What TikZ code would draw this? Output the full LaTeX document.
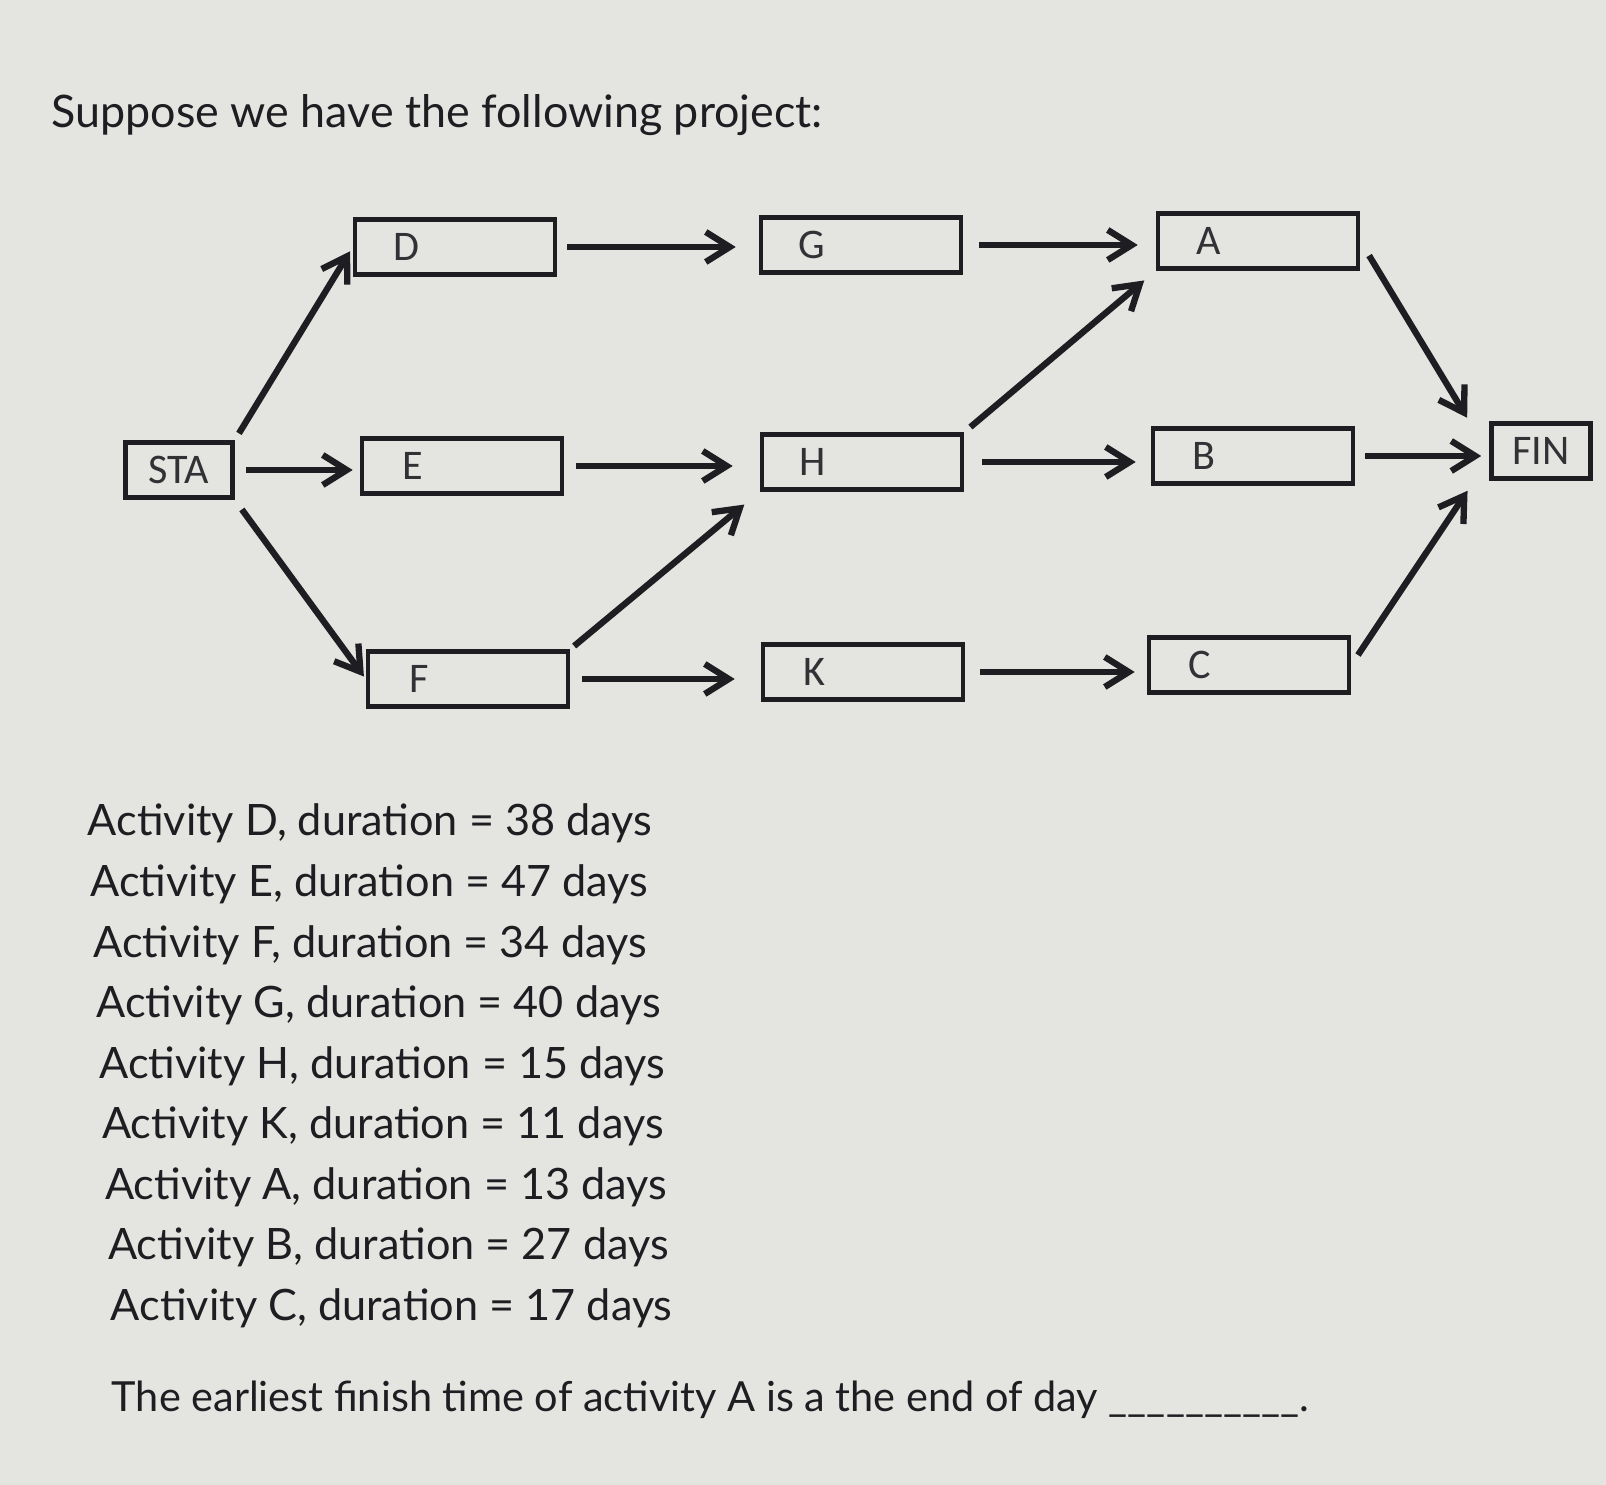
\documentclass[tikz,border=0pt]{standalone}
\usepackage{fontspec}
\setmainfont{Lato}
\newfontfamily\boxfont{Carlito}
\usepackage{tikz}
\usetikzlibrary{arrows.meta, positioning, calc}
\definecolor{paper}{RGB}{228,228,224}
\definecolor{ink}{RGB}{30,30,34}
\definecolor{tagink}{RGB}{50,50,54}
\newcommand{\boxtag}[1]{\makebox[0.8cm]{#1}}

\begin{document}
\begin{tikzpicture}[
    actbox/.style={draw=ink, line width=1.3pt, fill=paper, minimum width=2cm, minimum height=0.55cm,
                   text width=1.78cm, inner xsep=0.11cm, align=left, text=tagink, font=\boxfont\fontsize{12}{13}\selectfont},
    endbox/.style={draw=ink, line width=1.3pt, fill=paper, minimum height=0.55cm,
                   text=tagink, font=\boxfont\fontsize{12}{13}\selectfont},
    flow/.style={draw=ink, line width=1.8pt, -{Straight Barb[length=2.4mm, width=3mm, line width=1.8pt]}},
    txt/.style={anchor=base west, inner sep=0pt, text=ink, font=\fontsize{13.2}{16}\selectfont}
  ]
  \fill[paper] (0,0) rectangle (16.06,-14.85);
  \useasboundingbox (0,0) rectangle (16.06,-14.85);

  \node[txt, font=\fontsize{12.75}{16}\selectfont] (title) at (0.51,-1.28) {Suppose we have the following project:};

  % network
  \node[endbox, minimum width=1.07cm] (STA) at (1.79,-4.70) {STA};
  \node[actbox] (D) at (4.55,-2.47) {\boxtag{D}};
  \node[actbox] (E) at (4.62,-4.66) {\boxtag{E}};
  \node[actbox] (F) at (4.68,-6.79) {\boxtag{F}};
  \node[actbox] (G) at (8.61,-2.45) {\boxtag{G}};
  \node[actbox] (H) at (8.62,-4.62) {\boxtag{H}};
  \node[actbox] (K) at (8.63,-6.72) {\boxtag{K}};
  \node[actbox] (A) at (12.58,-2.41) {\boxtag{A}};
  \node[actbox] (B) at (12.53,-4.56) {\boxtag{B}};
  \node[actbox] (C) at (12.49,-6.65) {\boxtag{C}};
  \node[endbox, minimum width=0.99cm] (FIN) at (15.41,-4.51) {FIN};

  \draw[flow, shorten <=0.8mm, shorten >=0.5mm] (STA.north east) -- (D.west);
  \draw[flow, shorten <=1.1mm, shorten >=0.7mm] (STA.east) -- (STA.east -| E.west);
  \draw[flow, shorten <=1.2mm, shorten >=0.3mm] (STA.south east) -- (F.west);

  \draw[flow, shorten <=1mm, shorten >=2.3mm] (D.east) -- (D.east -| G.west);
  \draw[flow, shorten <=1.2mm, shorten >=2.7mm] (E.east) -- (E.east -| H.west);
  \draw[flow, shorten <=0.5mm, shorten >=2mm] (F.north east) -- (H.south west);
  \draw[flow, shorten <=1.2mm, shorten >=2.6mm] (F.east) -- (F.east -| K.west);

  \draw[flow, shorten <=1.6mm, shorten >=1.8mm] (G.east) -- (G.east -| A.west);
  \draw[flow, shorten <=0.8mm, shorten >=1.5mm] (H.north east) -- (A.south west);
  \draw[flow, shorten <=1.8mm, shorten >=1.5mm] (H.east) -- (H.east -| B.west);
  \draw[flow, shorten <=1.5mm, shorten >=1.2mm] (K.east) -- (K.east -| C.west);

  \draw[flow, shorten <=1.7mm, shorten >=0.4mm] (A.east) -- ([xshift=-2mm]FIN.north west);
  \draw[flow, shorten <=1mm, shorten >=0.8mm] (B.east) -- (B.east -| FIN.west);
  \draw[flow, shorten <=1.2mm, shorten >=1.2mm] (C.east) -- ([xshift=-1.5mm]FIN.south west);

  % durations
  \foreach \act/\dur [count=\i] in {D/38, E/47, F/34, G/40, H/15, K/11, A/13, B/27, C/17}
    \node[txt, font=\fontsize{12.3}{16}\selectfont] (dur\act) at ({0.87+0.029*(\i-1)}, {-8.36-0.605*(\i-1)}) {Activity \act, duration = \dur\ days};

  \node[txt, font=\fontsize{11.8}{16}\selectfont] (question) at (1.11,-14.11) {The earliest finish time of activity A is a the end of day \_\_\_\_\_\_\_\_\_\_.};
\end{tikzpicture}
\end{document}
